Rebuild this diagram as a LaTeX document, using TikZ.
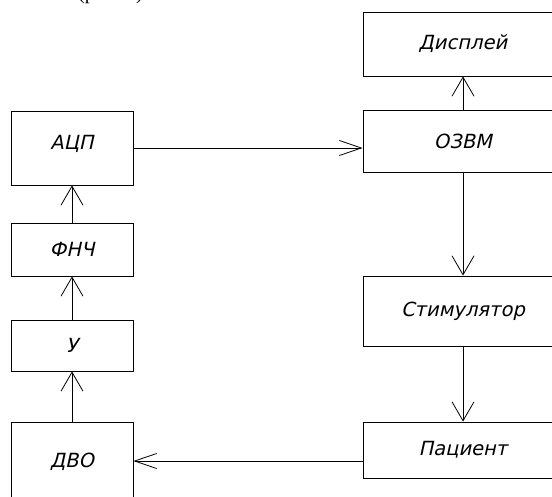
\documentclass[tikz,border=0pt]{standalone}
\usepackage{fontspec}
\setmainfont{DejaVu Sans}[FakeSlant=0.22]
\newfontfamily\serifcut{Liberation Serif}
\usetikzlibrary{arrows.meta}
\tikzset{
  blk/.style={draw, line width=0.8pt, rectangle, inner sep=0pt, font=\fontsize{19.5}{22}\selectfont},
  vwire/.style={line width=0.8pt, -{Straight Barb[length=19pt,width=22pt,line width=0.8pt]}},
  hwire/.style={line width=0.8pt, -{Straight Barb[length=22pt,width=15pt,line width=0.8pt]}}
}
\begin{document}
\begin{tikzpicture}[x=1pt,y=-1pt]
\useasboundingbox (0,0) rectangle (552,496);
\clip (0,0) rectangle (552,496);
\fill[white] (0,0) rectangle (552,496);
% cut-off text line at the top
\node[anchor=base west, font=\serifcut\fontsize{20}{22}\selectfont, inner sep=0pt] (cut) at (78,-1) {(рис. 1).};
% left column
\node[blk, minimum width=122pt, minimum height=74pt] (adc) at (72,148) {\raisebox{12pt}{АЦП}};
\node[blk, minimum width=122pt, minimum height=53pt] (lpf) at (72,249.5) {ФНЧ};
\node[blk, minimum width=122pt, minimum height=51pt] (amp) at (72,345.5) {У};
\node[blk, minimum width=122pt, minimum height=80pt] (dvo) at (72,462) {ДВО};
% right column
\node[blk, minimum width=200pt, minimum height=64pt] (disp) at (463,44) {Дисплей};
\node[blk, minimum width=200pt, minimum height=62pt] (ozvm) at (463,141) {ОЗВМ};
\node[blk, minimum width=200pt, minimum height=70pt] (stim) at (463,311) {Стимулятор};
\node[blk, minimum width=200pt, minimum height=56pt] (pat) at (463,450) {Пациент};
% connectors
\draw[vwire] (ozvm.north) -- (disp.south);
\draw[hwire] (adc.east) -- (adc.east -| ozvm.west);
\draw[vwire] (ozvm.south) -- (stim.north);
\draw[vwire] (stim.south) -- (pat.north);
\draw[hwire] ([yshift=-11pt]pat.west) -- ([yshift=-11pt]pat.west -| dvo.east);
\draw[vwire] (dvo.north) -- (amp.south);
\draw[vwire] (amp.north) -- (lpf.south);
\draw[vwire] (lpf.north) -- (adc.south);
\end{tikzpicture}
\end{document}
